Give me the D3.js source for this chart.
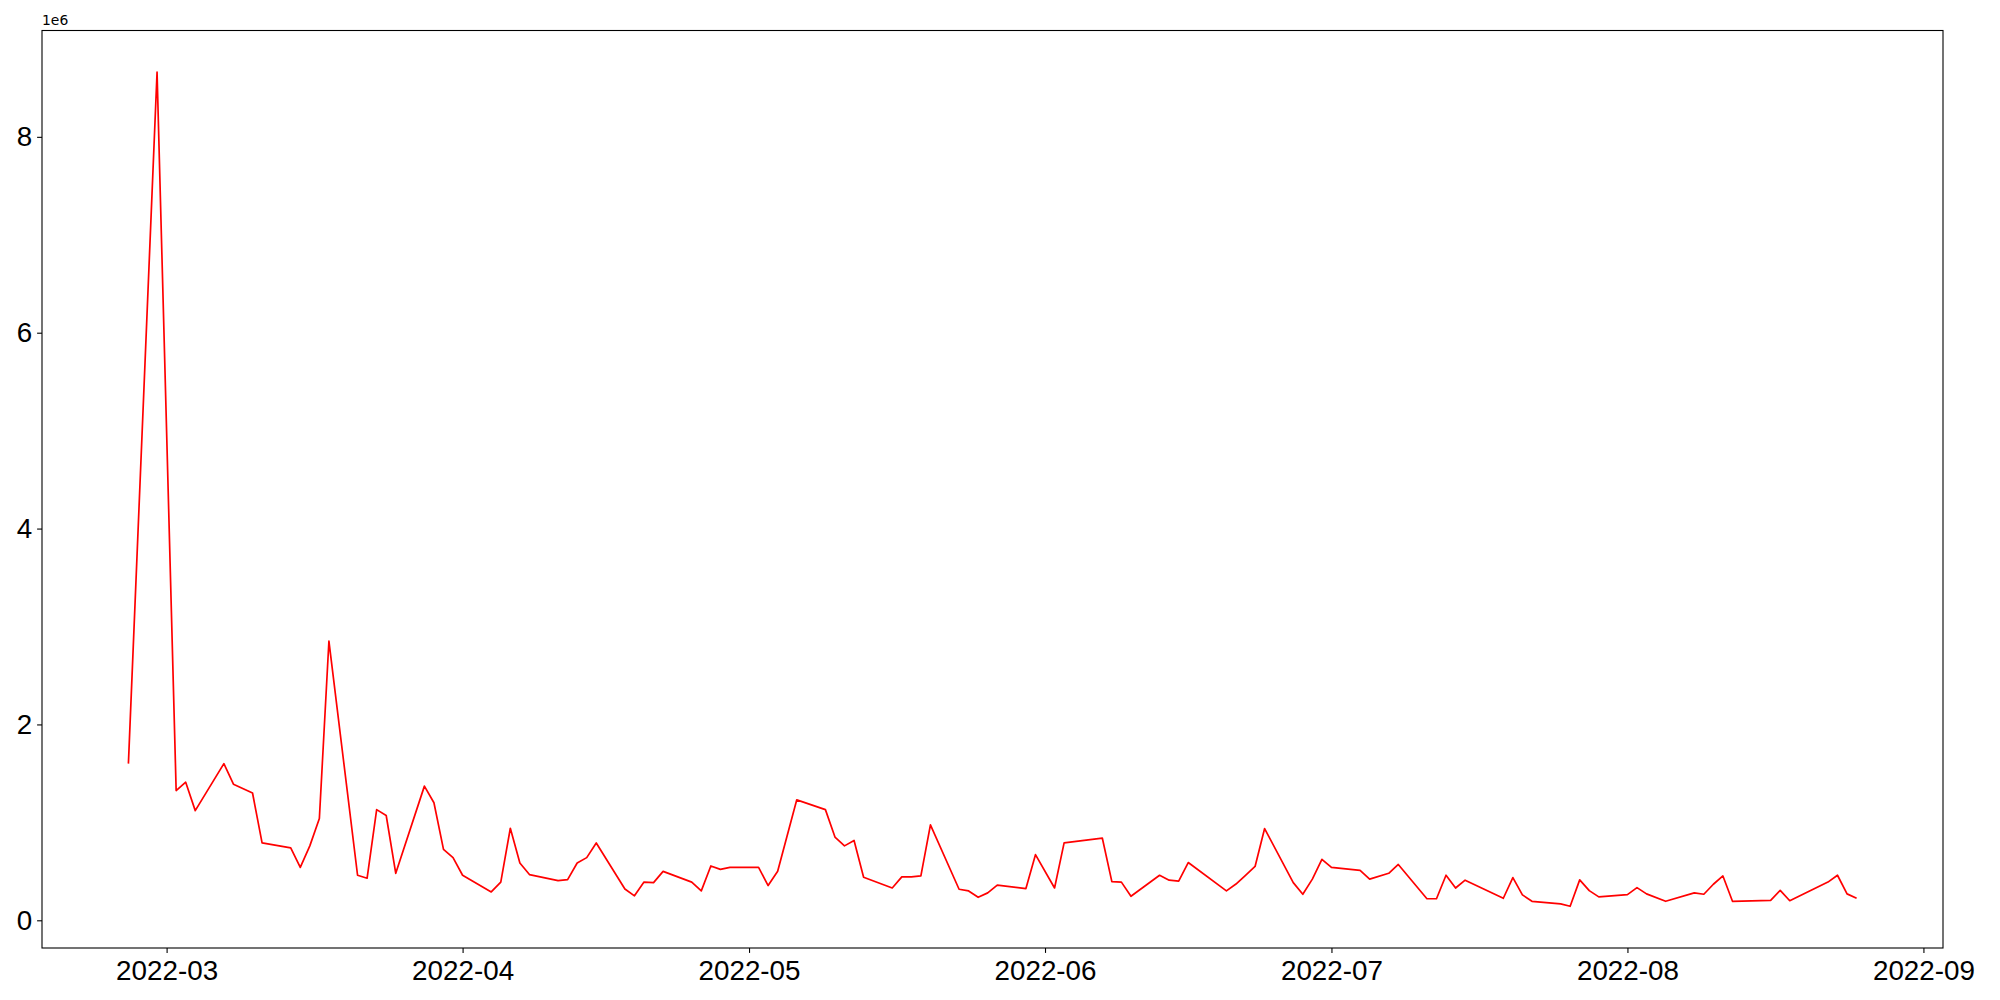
<!DOCTYPE html>
<html>
<head>
<meta charset="utf-8">
<script src="https://cdn.jsdelivr.net/npm/d3@7"></script>
<style>
  body { margin: 0; background: #fff; }
  svg { display: block; font-family: "DejaVu Sans", sans-serif; }
</style>
</head>
<body>
<svg id="chart"></svg>
<script>
// trading days
let dates = [
    "2022-02-25", "2022-02-28", "2022-03-02", "2022-03-03", "2022-03-04", "2022-03-07", "2022-03-08", "2022-03-10",
    "2022-03-11", "2022-03-14", "2022-03-15", "2022-03-16", "2022-03-17", "2022-03-18", "2022-03-21", "2022-03-22",
    "2022-03-23", "2022-03-24", "2022-03-25", "2022-03-28", "2022-03-29", "2022-03-30", "2022-03-31", "2022-04-01",
    "2022-04-04", "2022-04-05", "2022-04-06", "2022-04-07", "2022-04-08", "2022-04-11", "2022-04-12", "2022-04-13",
    "2022-04-14", "2022-04-15", "2022-04-18", "2022-04-19", "2022-04-20", "2022-04-21", "2022-04-22", "2022-04-25",
    "2022-04-26", "2022-04-27", "2022-04-28", "2022-04-29", "2022-05-02", "2022-05-03", "2022-05-04", "2022-05-06",
    "2022-05-09", "2022-05-10", "2022-05-11", "2022-05-12", "2022-05-13", "2022-05-16", "2022-05-17", "2022-05-18",
    "2022-05-19", "2022-05-20", "2022-05-23", "2022-05-24", "2022-05-25", "2022-05-26", "2022-05-27", "2022-05-30",
    "2022-05-31", "2022-06-02", "2022-06-03", "2022-06-07", "2022-06-08", "2022-06-09", "2022-06-10", "2022-06-13",
    "2022-06-14", "2022-06-15", "2022-06-16", "2022-06-20", "2022-06-21", "2022-06-22", "2022-06-23", "2022-06-24",
    "2022-06-27", "2022-06-28", "2022-06-29", "2022-06-30", "2022-07-01", "2022-07-04", "2022-07-05", "2022-07-07",
    "2022-07-08", "2022-07-11", "2022-07-12", "2022-07-13", "2022-07-14", "2022-07-15", "2022-07-19", "2022-07-20",
    "2022-07-21", "2022-07-22", "2022-07-25", "2022-07-26", "2022-07-27", "2022-07-28", "2022-07-29", "2022-08-01",
    "2022-08-02", "2022-08-03", "2022-08-05", "2022-08-08", "2022-08-09", "2022-08-10", "2022-08-11", "2022-08-12",
    "2022-08-16", "2022-08-17", "2022-08-18", "2022-08-22", "2022-08-23", "2022-08-24", "2022-08-25"
]

let values = [
    1600000, 8660000, 1325000, 1410000, 1120000, 1600000, 1390000, 1300000,
    790000, 740000, 540000, 760000, 1040000, 2850000, 460000, 430000,
    1130000, 1070000, 480000, 1370000, 1200000, 725000, 640000, 460000,
    290000, 390000, 940000, 585000, 467000, 405000, 415000, 585000,
    640000, 790000, 320000, 250000, 390000, 385000, 500000, 390000,
    300000, 555000, 520000, 540000, 540000, 355000, 500000, 1230000,
    1130000, 850000, 760000, 815000, 440000, 330000, 443000, 443000,
    453000, 975000, 317000, 300000, 235000, 280000, 360000, 324000,
    670000, 330000, 790000, 840000, 395000, 390000, 245000, 460000,
    410000, 400000, 590000, 300000, 370000, 460000, 550000, 937000,
    385000, 266000, 420000, 623000, 540000, 510000, 420000, 480000,
    570000, 220000, 220000, 460000, 330000, 410000, 225000, 436000,
    260000, 194000, 167000, 143000, 413000, 303000, 239000, 262000,
    334000, 270000, 194000, 280000, 266000, 368000, 453000, 194000,
    204000, 306000, 200000, 390000, 460000, 270000, 225000
]

let yTicks = [0, 2000000, 4000000, 6000000, 8000000]
let xTickLabels = ["2022-03", "2022-04", "2022-05", "2022-06", "2022-07", "2022-08", "2022-09"]

// set the dimensions of the figure and the axes box
let width = 2000
let height = 1000
let margin = { top: 30.5, right: 57, bottom: 52, left: 42 }

let svg = d3.select("#chart")
    .attr("width", width)
    .attr("height", height)

let parse = d3.utcParse("%Y-%m-%d")
let data = dates.map((d, i) => ({ date: parse(d), value: values[i] }))

// matplotlib style 5% padding around the data
let xExt = d3.extent(data, d => d.date.getTime())
let xPad = (xExt[1] - xExt[0]) * 0.05
let yExt = d3.extent(data, d => d.value)
let yPad = (yExt[1] - yExt[0]) * 0.05

let x = d3.scaleUtc()
    .domain([new Date(xExt[0] - xPad), new Date(xExt[1] + xPad)])
    .range([margin.left, width - margin.right])

let y = d3.scaleLinear()
    .domain([yExt[0] - yPad, yExt[1] + yPad])
    .range([height - margin.bottom, margin.top])

let tickSize = 4.9
let fontSize = 27.8

// x axis
let xAxis = svg.append("g")
    .attr("transform", "translate(0," + (height - margin.bottom) + ")")
    .call(d3.axisBottom(x)
        .tickValues(xTickLabels.map(d => d3.utcParse("%Y-%m")(d)))
        .tickFormat(d3.utcFormat("%Y-%m"))
        .tickSize(tickSize)
        .tickPadding(7.5))
xAxis.select(".domain").remove()
xAxis.selectAll("line").attr("stroke", "#000").attr("stroke-width", 1.1)
xAxis.selectAll("text").style("font-size", fontSize + "px").attr("fill", "#000")

// y axis
let yAxis = svg.append("g")
    .attr("transform", "translate(" + margin.left + ",0)")
    .call(d3.axisLeft(y)
        .tickValues(yTicks)
        .tickFormat(d => d / 1e6)
        .tickSize(tickSize)
        .tickPadding(4.9))
yAxis.select(".domain").remove()
yAxis.selectAll("line").attr("stroke", "#000").attr("stroke-width", 1.1)
yAxis.selectAll("text").style("font-size", fontSize + "px").attr("fill", "#000")

// the line itself
let line = d3.line()
    .x(d => x(d.date))
    .y(d => y(d.value))

svg.append("path")
    .datum(data)
    .attr("fill", "none")
    .attr("stroke", "#ff0000")
    .attr("stroke-width", 1.7)
    .attr("stroke-linejoin", "round")
    .attr("d", line)

// axes frame
svg.append("rect")
    .attr("x", margin.left)
    .attr("y", margin.top)
    .attr("width", width - margin.left - margin.right)
    .attr("height", height - margin.top - margin.bottom)
    .attr("fill", "none")
    .attr("stroke", "#000")
    .attr("stroke-width", 1.1)

// offset text of the y axis
svg.append("text")
    .attr("x", margin.left)
    .attr("y", margin.top - 6)
    .style("font-size", "13.9px")
    .text("1e6")
</script>
</body>
</html>
